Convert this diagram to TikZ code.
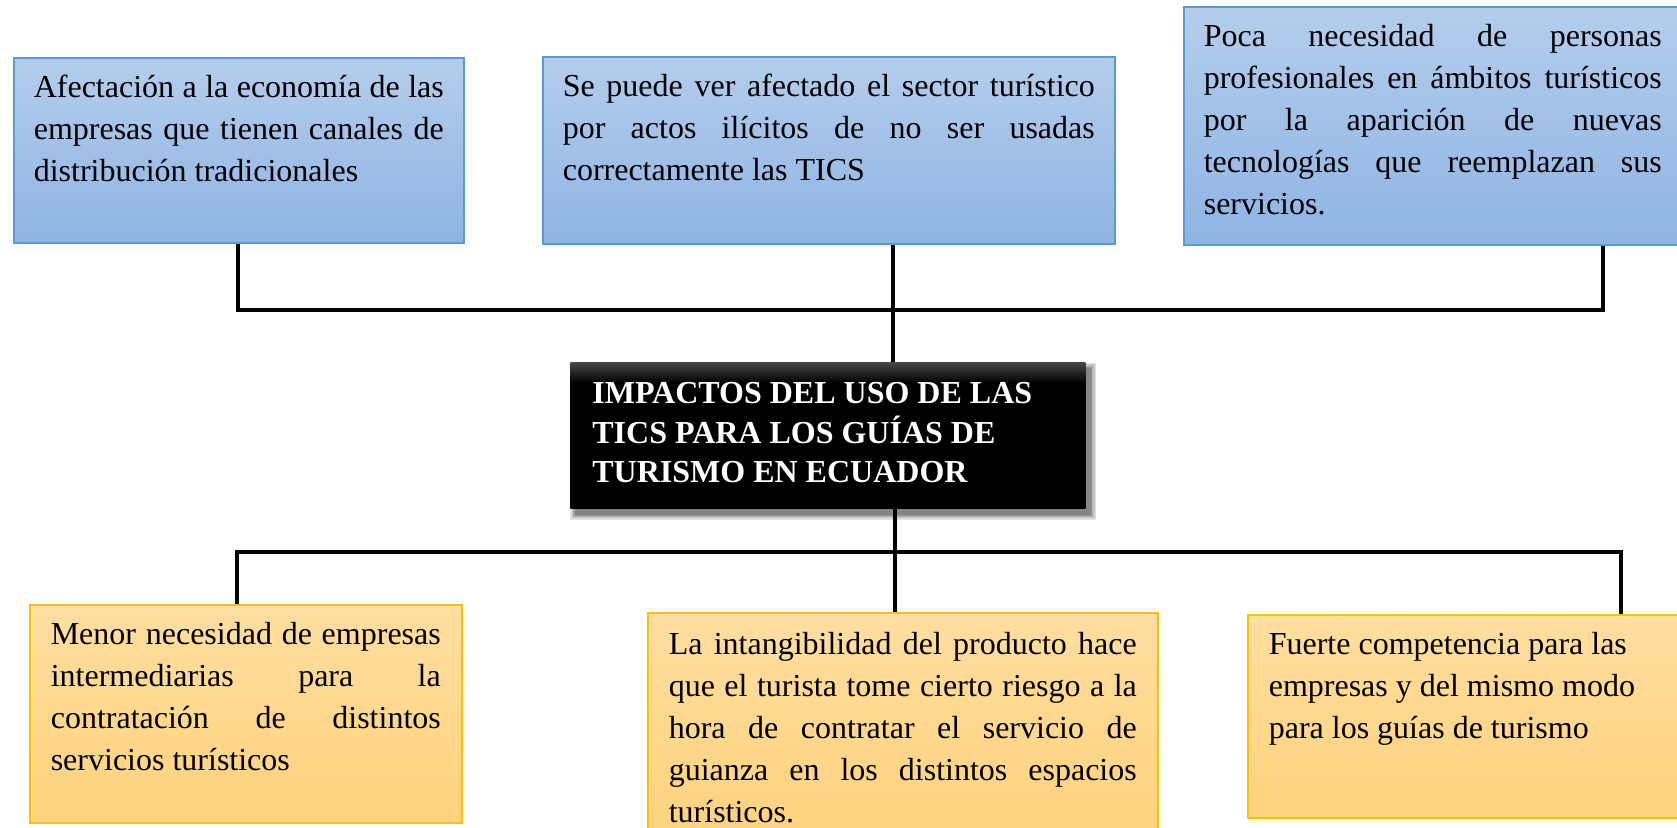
\documentclass[tikz,border=0pt]{standalone}
\usepackage{fontspec}
\setmainfont{Liberation Serif}
\usetikzlibrary{backgrounds}
\definecolor{bluetop}{RGB}{180,205,236}
\definecolor{bluebot}{RGB}{142,180,227}
\definecolor{blueline}{RGB}{91,155,213}
\definecolor{orgtop}{RGB}{255,222,160}
\definecolor{orgbot}{RGB}{255,211,125}
\definecolor{orgline}{RGB}{255,192,0}
\pgfdeclareverticalshading{titleshade}{100bp}{color(0bp)=(black); color(68bp)=(black); color(75bp)=(black!72); color(100bp)=(black!72)}
\newcommand{\jl}[1]{\makebox[\linewidth][s]{#1}\\}
\newcommand{\bodytext}[4]{\parbox[c][#2][t]{#1}{\fontsize{16pt}{21pt}\selectfont\rule{0pt}{#3}#4}}
\tikzset{
  bluebox/.style={anchor=north west, inner ysep=0pt, inner xsep=10pt, draw=blueline, line width=0.8pt, top color=bluetop, bottom color=bluebot},
  orgbox/.style={anchor=north west, inner ysep=0pt, inner xsep=10.5pt, draw=orgline, line width=0.8pt, top color=orgtop, bottom color=orgbot},
  titlebox/.style={anchor=north west, inner ysep=0pt, inner xsep=11pt, shade, shading=titleshade},
  shadowlayer/.style={fill=black, opacity=0.12},
  conn/.style={draw=black, line width=1.75pt}
}
\begin{document}
\begin{tikzpicture}[x=0.5pt, y=-0.5pt]
\useasboundingbox (0,0) rectangle (1677,827);
% top boxes
\node[bluebox] (b1) at (13,57) {\bodytext{205pt}{92.5pt}{19.8pt}{%
\jl{Afectación a la economía de las}%
\jl{empresas que tienen canales de}%
distribución tradicionales}};
\node[bluebox] (b2) at (542,56) {\bodytext{266pt}{93.5pt}{19.6pt}{%
\jl{Se puede ver afectado el sector turístico}%
\jl{por actos ilícitos de no ser usadas}%
correctamente las TICS}};
\node[bluebox] (b3) at (1183,6) {\bodytext{229pt}{119pt}{19.6pt}{%
\jl{Poca necesidad de personas}%
\jl{profesionales en ámbitos turísticos}%
\jl{por la aparición de nuevas}%
\jl{tecnologías que reemplazan sus}%
servicios.}};
% title
\node[titlebox] (title) at (570,362) {\parbox[c][73pt][t]{235.5pt}{\fontsize{16pt}{19.8pt}\selectfont\bfseries\color{white}\rule{0pt}{20.5pt}IMPACTOS DEL USO DE LAS\\TICS PARA LOS GUÍAS DE\\TURISMO EN ECUADOR}};
\begin{pgfonlayer}{background}
\foreach \r in {0pt,0.6pt,1.2pt,1.8pt,2.4pt}{
  \fill[shadowlayer] ([xshift=2.6pt-\r, yshift=-3pt+\r]title.north west) rectangle ([xshift=2.6pt+\r, yshift=-3pt-\r]title.south east);
}
\end{pgfonlayer}
% bottom boxes
\node[orgbox] (b4) at (29,604) {\bodytext{195pt}{109pt}{19.6pt}{%
\jl{Menor necesidad de empresas}%
\jl{intermediarias para la}%
\jl{contratación de distintos}%
servicios turísticos}};
\node[orgbox] (b5) at (647,612) {\bodytext{234pt}{111.5pt}{20.8pt}{%
\jl{La intangibilidad del producto hace}%
\jl{que el turista tome cierto riesgo a la}%
\jl{hora de contratar el servicio de}%
\jl{guianza en los distintos espacios}%
turísticos.}};
\node[orgbox] (b6) at (1247,614) {\bodytext{207pt}{101.5pt}{19.6pt}{%
Fuerte competencia para las\\
empresas y del mismo modo\\
para los guías de turismo}};
% connectors
\coordinate (tl) at (238,310);
\coordinate (tr) at (1603,310);
\coordinate (tm) at (893,310);
\coordinate (bl) at (237,552);
\coordinate (br) at (1621,552);
\coordinate (bm) at (895,552);
\draw[conn] (b1.south -| tl) -- (tl) -- (tr) -- (b3.south -| tr);
\draw[conn] (b2.south -| tm) -- (title.north -| tm);
\draw[conn] (b4.north -| bl) -- (bl) -- (br) -- (b6.north -| br);
\draw[conn] (title.south -| bm) -- (b5.north -| bm);
\end{tikzpicture}
\end{document}
